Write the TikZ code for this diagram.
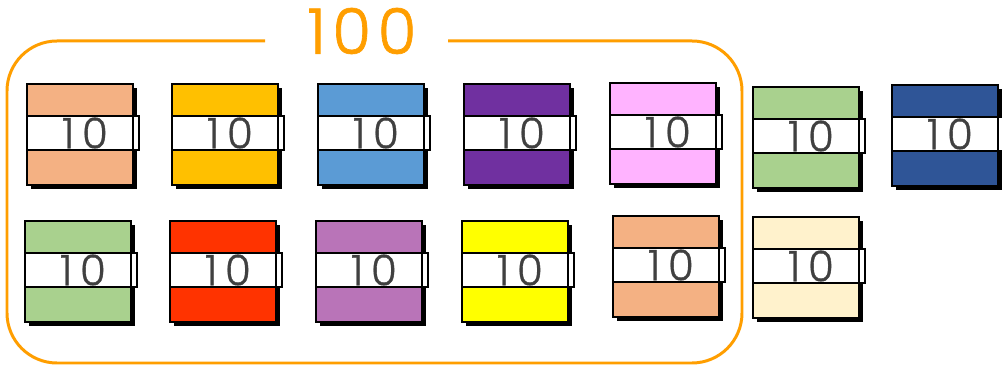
\documentclass[tikz,border=0pt]{standalone}
\usepackage{fontspec}
\setmainfont{Poppins}[UprightFont=* Light]
\usetikzlibrary{positioning}
\definecolor{porange}{HTML}{FF9E00}
\definecolor{tgray}{HTML}{404040}
\definecolor{bpeach}{HTML}{F4B183}
\definecolor{bgold}{HTML}{FFC000}
\definecolor{bblue}{HTML}{5B9BD5}
\definecolor{bpurple}{HTML}{7030A0}
\definecolor{bpink}{HTML}{FFB3FF}
\definecolor{bgreen}{HTML}{A9D18E}
\definecolor{bnavy}{HTML}{2F5597}
\definecolor{bred}{HTML}{FF3300}
\definecolor{bmauve}{HTML}{B974B8}
\definecolor{byellow}{HTML}{FFFF00}
\definecolor{bcream}{HTML}{FFF2CC}

\begin{document}
\begin{tikzpicture}[x=0.02cm,y=-0.02cm,
    edge/.style={draw=black,line width=1.5pt},
    tenlabel/.style={text=tgray,inner sep=0pt,
      font=\fontsize{24}{24}\selectfont\addfontfeatures{LetterSpace=18,FakeBold=0.8}},
    hundredlabel/.style={text=porange,inner sep=0pt,
      font=\fontsize{36}{36}\selectfont\addfontfeatures{LetterSpace=10,FakeBold=1}}]
      \useasboundingbox (0,0) rectangle (1002,367);

      % Frame around the first hundred (gap at the top for the label)
      \draw[porange,line width=1.7pt,rounded corners=1cm]
        (265,41) -| (7,363) -| (742,41) -- (448,41);
      \node[hundredlabel] (hundred) at (362,31) {100};

      % Bars of ten: shadow, coloured square, white band, small tab
      \foreach \n/\x/\y/\c in {a/27/84/bpeach, b/172/84/bgold, c/318/84/bblue,
          d/464/84/bpurple, e/610/83/bpink, f/753/87/bgreen, g/892/85/bnavy,
          h/25/221/bgreen, i/170/221/bred, j/316/221/bmauve, k/462/221/byellow,
          l/613/216/bpeach, m/753/217/bcream}
      {
        \fill[black] (\x+4,\y+4) rectangle ++(106,101);
        \filldraw[edge,fill=\c] (\x,\y) rectangle ++(106,101);
        \filldraw[edge,fill=white] (\x+106,\y+32) rectangle ++(6,34);
        \filldraw[edge,fill=white] (\x,\y+32) rectangle ++(106,34);
        \node[tenlabel] (ten\n) at (\x+58,\y+49) {10};
      }
    \end{tikzpicture}
\end{document}
